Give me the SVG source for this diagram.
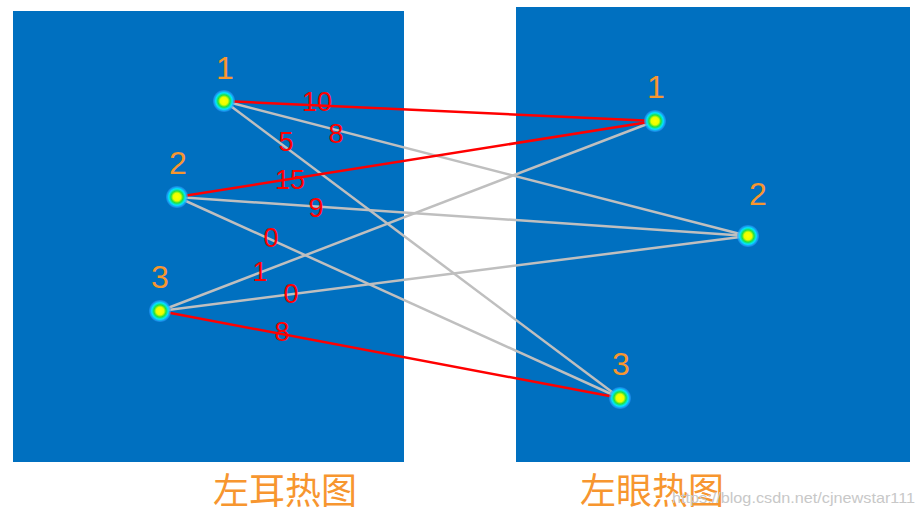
<svg xmlns="http://www.w3.org/2000/svg" width="920" height="516" viewBox="0 0 920 516">
<style>
.panel{fill:#0070C0}
.g{stroke:#BFBFBF;stroke-width:2.5;fill:none}
.r{stroke:#FF0000;stroke-width:2.5;fill:none}
.w{font-family:"Liberation Sans",Arial,sans-serif;font-size:27px;fill:#FF0000;text-anchor:middle}
.nl{font-family:"Liberation Sans",Arial,sans-serif;font-size:32px;fill:#F7962F;text-anchor:middle}
.t{font-family:"Liberation Sans","Noto Sans CJK SC",sans-serif;font-size:36px;fill:#F7962F}
.wm{font-family:"Liberation Sans",Arial,sans-serif;font-size:15px;fill:#C8C8C8}
</style>
<defs>
<radialGradient id="heat">
<stop offset="0" stop-color="#FFFF00"/>
<stop offset="0.35" stop-color="#E8FF00"/>
<stop offset="0.55" stop-color="#20E040"/>
<stop offset="0.75" stop-color="#00E8FF"/>
<stop offset="1" stop-color="#3090FF" stop-opacity="0.5"/>
</radialGradient>
</defs>
<rect width="920" height="516" fill="#FFFFFF"/>
<rect class="panel" x="13" y="11" width="391" height="451"/>
<rect class="panel" x="516" y="7" width="394" height="455"/>
<g id="connectors">
<line class="g" x1="224" y1="101" x2="748" y2="236"/>
<line class="g" x1="224" y1="101" x2="620" y2="398"/>
<line class="g" x1="177" y1="197" x2="748" y2="236"/>
<line class="g" x1="177" y1="197" x2="620" y2="398"/>
<line class="g" x1="160" y1="311" x2="655" y2="121"/>
<line class="g" x1="160" y1="311" x2="748" y2="236"/>
<line class="r" x1="224" y1="101" x2="655" y2="121"/>
<line class="r" x1="177" y1="197" x2="655" y2="121"/>
<line class="r" x1="160" y1="311" x2="620" y2="398"/>
<text class="w" x="317" y="111">10</text>
<text class="w" x="336" y="143">8</text>
<text class="w" x="286" y="151">5</text>
<text class="w" x="290" y="189">15</text>
<text class="w" x="316" y="217">9</text>
<text class="w" x="271" y="247">0</text>
<text class="w" x="260" y="281">1</text>
<text class="w" x="291" y="303">0</text>
<text class="w" x="282" y="341">8</text>
</g>
<g id="L1"><circle cx="224" cy="101" r="11" fill="url(#heat)"/><text class="nl" x="225" y="79">1</text></g>
<g id="L2"><circle cx="177" cy="197" r="11" fill="url(#heat)"/><text class="nl" x="178" y="174">2</text></g>
<g id="L3"><circle cx="160" cy="311" r="11" fill="url(#heat)"/><text class="nl" x="160" y="288">3</text></g>
<g id="R1"><circle cx="655" cy="121" r="11" fill="url(#heat)"/><text class="nl" x="656" y="98">1</text></g>
<g id="R2"><circle cx="748" cy="236" r="11" fill="url(#heat)"/><text class="nl" x="758" y="205">2</text></g>
<g id="R3"><circle cx="620" cy="398" r="11" fill="url(#heat)"/><text class="nl" x="621" y="375">3</text></g>
<text class="t" x="213" y="504">左耳热图</text>
<text class="t" x="580" y="504">左眼热图</text>
<text class="wm" x="672" y="503" textLength="243" lengthAdjust="spacingAndGlyphs">https://blog.csdn.net/cjnewstar111</text>
</svg>
